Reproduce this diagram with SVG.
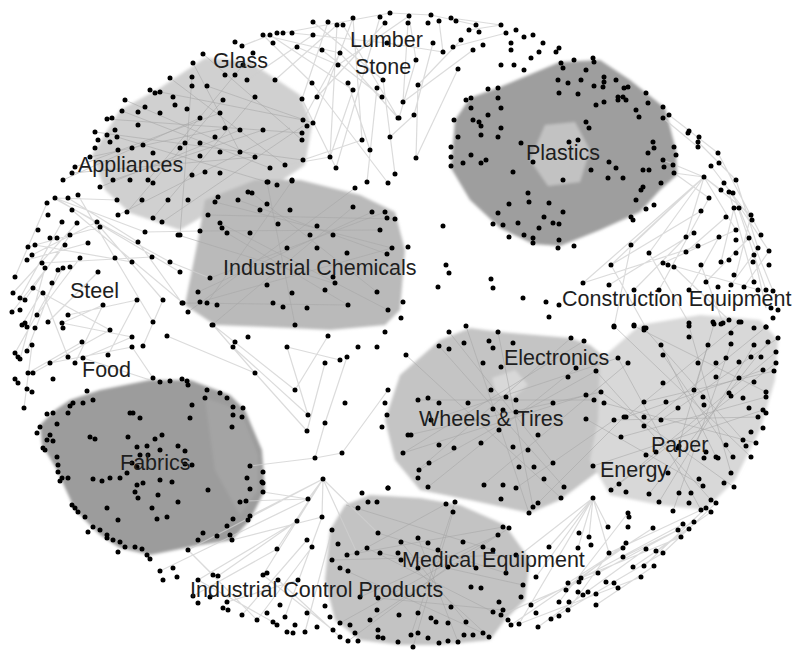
<svg xmlns="http://www.w3.org/2000/svg" width="796" height="651" viewBox="0 0 796 651">
<style>
.bg{fill:#fff}
.cl{stroke:none}
.e{fill:none;stroke:#cfcfcf;stroke-width:1.2;stroke-opacity:.75}
.t{fill:none;stroke:#a5a5a5;stroke-width:1;stroke-opacity:.55}
.n{fill:none;stroke:#000;stroke-width:5;stroke-linecap:round}
.lb{font-family:"Liberation Sans",Arial,Helvetica,sans-serif;font-size:21.5px;fill:#1e1e1e}
</style>
<defs>
<filter id="soft" x="-10%" y="-10%" width="120%" height="120%"><feGaussianBlur stdDeviation="1.6"/></filter>
</defs>
<rect class="bg" width="796" height="651"/>
<g id="connectors">
<g id="cluster-fills" filter="url(#soft)">
<polygon class="cl" fill="#d0d0d0" points="92,155 120,110 160,88 205,58 250,62 300,95 312,125 305,165 275,185 230,200 180,230 130,213 105,190"/>
<polygon class="cl" fill="#bababa" points="205,200 255,180 300,180 360,195 395,212 405,250 400,310 385,325 330,330 290,328 215,325 185,305 198,240"/>
<polygon class="cl" fill="#9e9e9e" points="455,120 470,98 500,87 560,62 600,60 630,80 665,108 676,150 677,175 660,190 640,212 600,230 560,246 533,244 500,228 470,200 451,168"/>
<polygon class="cl" fill="#c2c2c2" points="545,125 575,122 590,150 580,182 548,186 530,160"/>
<polygon class="cl" fill="#c4c4c4" points="400,375 440,340 470,328 500,332 570,338 590,345 620,370 625,420 600,470 560,500 530,513 470,500 420,490 395,460 385,420"/>
<polygon class="cl" fill="#d8d8d8" points="492,378 515,370 528,385 512,398 496,394"/>
<polygon class="cl" fill="#d8d8d8" points="600,360 640,325 700,315 760,320 778,340 775,380 760,430 735,480 705,510 660,505 610,495 590,460 598,420"/>
<polygon class="cl" fill="#9c9c9c" points="40,425 55,410 70,400 100,390 150,380 190,380 230,395 245,410 262,450 265,490 250,520 232,540 200,545 150,555 120,548 100,535 75,510 57,470 42,445"/>
<polygon class="cl" fill="#a4a4a4" points="205,398 240,410 258,455 258,490 240,515 215,470"/>
<polygon class="cl" fill="#c3c3c3" points="330,530 345,505 370,495 420,498 460,505 505,525 530,560 525,600 505,620 490,640 440,645 400,645 360,640 335,620 325,580"/>
</g>
<path class="t" d="M95,132L303,160M107,119L302,133M125,100L255,157M150,90L303,120M170,78L285,165M207,86L313,123M203,54L302,140M122,111L270,168M117,137L267,182M90,157L225,128M100,187L240,130M113,180L263,130M127,212L223,100M153,218L255,97M180,235L192,77M162,222L303,126M148,180L243,65M118,215L290,128M75,167L220,113M63,180L200,118M72,173L255,157M193,63L240,152"/>
<path class="t" d="M208,215L395,219M200,231L380,230M215,202L392,248M252,193L377,292M238,200L387,254M220,223L388,310M198,292L372,212M188,312L355,188M210,278L385,212M183,303L348,305M200,302L392,248M212,325L353,207M295,325L267,182M227,233L348,305M178,235L333,283M207,303L292,181"/>
<path class="t" d="M403,453L586,395M408,435L601,392M418,400L594,400M428,487L576,368M439,346L564,487M449,332L553,463M498,332L533,507M571,338L418,470M584,341L403,453M466,326L529,513M406,355L561,498M431,420L618,358M483,485L628,363M538,503L624,417M516,488L614,420M419,470L596,371"/>
<path class="t" d="M614,326L751,457M634,326L766,392M644,328L743,440M689,326L731,473M714,324L678,448M741,322L626,417M766,327L644,426M778,338L661,420M776,363L619,484M776,352L611,490M768,342L649,494M754,345L659,502M731,344L673,511M708,345L694,390M661,345L716,457M663,355L733,457M626,417L763,370M644,402L774,371M621,437L766,397M593,466L763,410M614,420L758,417M604,403L756,443M586,419L703,486M601,392L734,487M596,371L711,500M618,358L701,510"/>
<path class="t" d="M346,505L493,550M340,568L483,633M332,560L516,555M347,555L503,527M357,553L446,504M378,533L506,573M367,548L493,612M380,553L523,585M378,598L503,610M370,620L509,528M360,597L498,535M401,542L466,622M418,538L458,642M398,553L489,637M453,512L413,647M455,502L411,635M340,623L498,535M348,641L448,567"/>
<path class="e" d="M263,35L340,53M270,35L353,90M283,33L390,13M292,33L387,43M297,47L338,65M313,22L383,80M328,22L302,99M337,25L330,157M343,25L398,118M353,18L362,140M380,17L336,168M385,23L317,97M390,13L431,15M409,16L416,60M431,15L476,25M451,18L501,25M439,21L443,52M408,23L403,102M416,60L399,118M418,85L416,158M414,115L390,137M433,43L414,115M461,40L418,85M473,50L403,102M348,83L370,150M353,90L330,157M377,88L367,182M383,80L395,174M312,83L388,183M302,99L336,168M247,80L313,35M275,80L337,25M312,83L263,35M322,50L382,97M340,53L398,118M387,43L443,52M501,25L469,30M506,33L453,47M416,158L458,69M338,65L409,16M270,35L242,46M303,120L340,53M313,123L353,18M303,160L362,140M285,165L330,157"/>
<path class="e" d="M55,198L180,272M57,200L170,262M55,198L145,232M47,203L15,277M68,198L138,242M78,195L115,258M28,247L100,227M35,245L132,262M32,255L97,222M27,260L88,243M42,263L152,257M13,293L77,223M20,298L62,222M25,300L70,235M12,312L65,245M37,315L80,258M48,322L98,272M62,323L103,305M22,325L43,290M68,315L137,300M153,322L115,258M163,300L100,227M182,303L138,242M15,353L63,268M20,359L45,268M27,351L58,270M68,357L43,293M75,363L103,305M83,358L132,337M108,355L137,300M132,337L62,323M143,346L163,300M110,330L33,288M28,373L82,342M50,363L132,347M24,408L32,345M33,373L110,330M153,378L132,347M72,210L183,303M145,232L200,231M170,262L210,278M83,358L150,380M55,198L118,200"/>
<path class="e" d="M323,479L188,550M323,479L297,521M323,479L308,499M323,479L263,575M323,479L277,549M323,479L322,517M323,479L357,553M308,499L160,571M297,521L198,580M297,521L218,576M277,549L193,596M307,540L242,615M312,547L257,620M322,517L285,617M332,530L305,632M188,550L257,620M188,550L213,575M198,580L273,622M227,602L298,580M263,575L333,630M278,580L340,637M232,540L322,517M247,501L308,499M315,458L250,466M315,458L342,453M325,423L315,458M307,431L255,373M308,415L233,347M295,390L213,325M295,390L328,336M255,373L167,336M287,347L340,360M325,423L347,357M342,453L388,390M308,415L287,347M255,373L213,325M307,431L325,363M250,516L323,479M263,492L308,499M323,479L378,533"/>
<path class="e" d="M593,498L536,577M593,498L578,548M593,498L549,547M593,498L519,624M593,498L609,553M593,498L589,537M593,498L608,527M593,498L520,555M653,528L568,583M678,530L598,573M689,529L633,567M694,522L623,557M681,537L581,578M628,513L559,602M683,524L531,605M646,549L538,627M663,553L551,619M626,543L566,590M654,566L596,605M711,512L656,551M716,503L663,553M706,508L644,566M701,510L609,553M641,577L519,624M609,553L568,610M623,548L511,625M599,573L501,615"/>
<path class="e" d="M704,177L611,265M704,177L583,283M704,177L631,245M704,177L649,253M704,177L686,237M704,177L736,230M704,177L721,190M704,177L751,215M704,177L674,173M718,153L761,235M711,166L752,220M698,142L736,180M724,183L769,251M736,180L758,248M733,193L766,290M729,192L754,282M739,208L773,291M701,211L611,265M709,198L659,290M734,208L721,262M751,215L736,275M726,217L686,252M736,230L663,263M694,233L609,285M686,237L634,290M698,246L583,283M719,237L689,290M749,238L706,282M758,248L731,285M769,251L744,287M754,255L766,308M663,263L759,290M631,245L614,327M649,253L689,323M701,265L723,323M674,267L729,320M611,265L646,328M669,115L718,153M663,160L704,177M663,118L698,147M674,173L709,198"/>
</g>
<g id="nodes">
<g id="n-lumber-stone"><path class="n" d="M313 22h0M328 22h0M337 25h0M343 25h0M353 18h0M380 17h0M390 13h0M385 23h0M263 35h0M270 35h0M277 33h0M283 33h0M292 33h0M313 35h0M235 42h0M242 46h0M273 43h0M297 47h0M322 50h0M340 53h0M387 43h0M253 53h0M338 65h0M348 83h0M353 90h0M275 80h0M312 83h0M317 97h0M302 99h0M377 88h0M383 80h0M382 97h0M398 118h0M390 137h0M362 140h0M370 150h0M330 157h0M336 168h0M367 182h0M388 183h0M395 174h0M409 16h0M431 15h0M451 18h0M456 21h0M439 21h0M428 23h0M408 23h0M476 25h0M479 32h0M501 25h0M469 30h0M461 40h0M433 43h0M443 52h0M453 47h0M473 50h0M483 45h0M506 33h0M516 30h0M524 37h0M533 35h0M511 43h0M511 50h0M543 43h0M539 52h0M559 48h0M556 52h0M531 58h0M416 60h0M458 69h0M501 65h0M514 65h0M524 70h0M418 85h0M403 102h0M414 115h0M399 118h0M416 158h0"/></g>
<g id="n-glass-appliances"><path class="n" d="M203 54h0M193 63h0M243 65h0M235 75h0M247 80h0M225 75h0M170 78h0M192 77h0M192 86h0M207 86h0M173 97h0M150 90h0M155 93h0M160 92h0M125 100h0M145 107h0M175 105h0M122 111h0M138 112h0M160 113h0M187 109h0M223 100h0M255 97h0M220 113h0M200 118h0M107 119h0M112 118h0M115 130h0M138 125h0M117 137h0M107 135h0M95 132h0M98 140h0M95 148h0M110 142h0M90 157h0M118 150h0M132 148h0M143 145h0M153 153h0M180 148h0M185 143h0M200 143h0M215 137h0M225 128h0M240 130h0M263 130h0M220 152h0M200 156h0M240 152h0M255 157h0M303 120h0M307 126h0M313 123h0M302 133h0M302 140h0M285 165h0M303 160h0M270 168h0M220 173h0M205 172h0M192 175h0M148 180h0M153 183h0M130 180h0M113 180h0M100 187h0M75 167h0M72 173h0M63 180h0M117 200h0M127 212h0M118 215h0M142 200h0M153 218h0M162 222h0M180 235h0M168 200h0M188 200h0M218 197h0M248 192h0M267 182h0M277 185h0M292 180h0"/></g>
<g id="n-steel"><path class="n" d="M55 198h0M68 198h0M78 195h0M47 203h0M72 210h0M48 215h0M77 223h0M62 222h0M38 230h0M70 235h0M50 238h0M57 238h0M28 247h0M35 245h0M65 245h0M88 243h0M97 222h0M100 227h0M32 255h0M27 260h0M42 263h0M45 268h0M80 258h0M70 267h0M63 268h0M52 283h0M15 277h0M33 288h0M43 293h0M13 293h0M25 300h0M20 298h0M58 270h0M98 272h0M115 258h0M132 262h0M152 257h0M138 242h0M145 232h0M170 262h0M180 272h0M137 300h0M163 300h0M182 303h0M103 305h0M12 312h0M20 310h0M37 315h0M68 315h0M22 325h0M25 323h0M48 322h0M62 323h0M153 322h0M27 327h0M35 328h0M63 328h0M110 330h0M132 337h0M132 347h0M143 346h0"/></g>
<g id="n-food"><path class="n" d="M82 342h0M32 345h0M27 351h0M15 353h0M18 357h0M20 359h0M68 357h0M75 363h0M83 358h0M108 355h0M50 363h0M28 373h0M33 373h0M53 379h0M15 379h0M18 383h0M27 389h0M32 392h0M24 408h0M87 391h0M153 378h0M167 336h0"/></g>
<g id="n-industrial-chemicals"><path class="n" d="M268 182h0M292 181h0M252 193h0M238 200h0M215 202h0M267 204h0M260 210h0M208 215h0M220 223h0M222 228h0M227 233h0M250 233h0M278 224h0M290 210h0M317 226h0M355 188h0M353 207h0M372 212h0M385 212h0M387 218h0M395 219h0M380 230h0M310 235h0M333 235h0M287 248h0M317 248h0M347 253h0M392 248h0M387 254h0M200 231h0M178 235h0M210 278h0M333 277h0M335 283h0M267 285h0M292 293h0M325 290h0M377 292h0M198 292h0M200 302h0M183 303h0M207 303h0M217 305h0M273 303h0M283 307h0M307 308h0M348 305h0M388 310h0M188 312h0M212 325h0M295 325h0M213 325h0M233 347h0M235 342h0M248 337h0M287 347h0M295 325h0M328 336h0M325 363h0M340 360h0M347 357h0M358 347h0M377 347h0M385 332h0M401 318h0M403 302h0"/></g>
<g id="n-plastics"><path class="n" d="M561 63h0M574 60h0M563 68h0M586 70h0M594 62h0M593 58h0M604 77h0M616 80h0M624 88h0M628 87h0M623 97h0M618 97h0M604 82h0M603 87h0M594 86h0M581 80h0M568 83h0M558 80h0M559 93h0M578 94h0M596 105h0M604 102h0M618 100h0M626 100h0M636 110h0M646 93h0M648 103h0M663 107h0M663 118h0M669 115h0M639 117h0M586 122h0M589 128h0M578 140h0M569 142h0M653 142h0M654 148h0M674 147h0M676 155h0M648 153h0M663 160h0M664 167h0M673 165h0M674 173h0M521 143h0M533 162h0M609 162h0M616 168h0M591 170h0M608 178h0M623 178h0M643 170h0M649 170h0M661 183h0M643 187h0M641 190h0M636 200h0M654 205h0M646 209h0M631 217h0M633 220h0M563 180h0M513 172h0M528 193h0M529 202h0M509 204h0M549 203h0M563 212h0M544 217h0M553 223h0M559 224h0M539 228h0M498 213h0M493 224h0M503 225h0M518 223h0M509 237h0M524 235h0M533 238h0M533 243h0M559 240h0M558 248h0M574 246h0M454 120h0M458 137h0M451 147h0M451 157h0M451 166h0M463 163h0M471 155h0M481 163h0M486 160h0M466 100h0M471 98h0M488 89h0M498 88h0M498 98h0M501 108h0M488 115h0M479 122h0M481 126h0M481 135h0M471 108h0M473 120h0M501 128h0M498 137h0"/></g>
<g id="n-construction"><path class="n" d="M688 133h0M689 131h0M699 137h0M698 142h0M698 147h0M718 153h0M711 166h0M719 163h0M704 177h0M724 183h0M736 180h0M721 190h0M729 192h0M733 193h0M709 198h0M701 211h0M734 208h0M739 208h0M751 215h0M752 220h0M726 217h0M736 230h0M761 235h0M694 233h0M686 237h0M698 246h0M719 237h0M736 240h0M749 238h0M758 248h0M769 251h0M754 255h0M736 253h0M686 252h0M649 253h0M631 245h0M663 263h0M668 265h0M674 267h0M701 265h0M721 262h0M729 260h0M753 262h0M769 265h0M734 275h0M754 282h0M706 282h0M718 287h0M731 285h0M744 287h0M758 290h0M766 290h0M773 291h0M771 308h0M778 310h0M611 265h0M583 283h0M609 285h0M634 290h0M659 290h0M689 290h0M443 226h0M408 247h0M446 265h0M449 273h0M438 287h0M491 279h0M493 288h0M523 298h0M546 302h0M559 305h0M549 317h0M614 327h0M634 325h0M646 328h0M689 323h0M713 322h0M723 323h0M729 320h0M739 322h0M766 327h0M773 318h0"/></g>
<g id="n-fabrics"><path class="n" d="M160 382h0M170 381h0M182 379h0M187 381h0M188 385h0M207 390h0M220 393h0M227 398h0M205 398h0M192 405h0M233 407h0M243 408h0M233 415h0M242 417h0M190 418h0M232 427h0M93 400h0M83 403h0M73 403h0M70 406h0M68 413h0M53 413h0M47 414h0M57 424h0M40 427h0M37 433h0M50 435h0M47 440h0M53 441h0M43 448h0M45 450h0M57 457h0M58 465h0M58 472h0M62 478h0M60 481h0M68 478h0M130 413h0M133 413h0M140 418h0M90 437h0M95 439h0M128 437h0M155 439h0M162 435h0M147 446h0M160 450h0M178 446h0M185 451h0M137 447h0M140 455h0M148 455h0M132 463h0M185 464h0M192 465h0M127 473h0M137 467h0M93 479h0M102 481h0M110 478h0M120 478h0M137 485h0M143 483h0M160 480h0M172 482h0M135 492h0M138 498h0M158 495h0M178 502h0M208 490h0M250 466h0M263 472h0M247 478h0M262 482h0M263 483h0M250 489h0M263 492h0M240 502h0M246 501h0M152 508h0M72 505h0M75 508h0M78 512h0M107 508h0M85 517h0M118 520h0M157 519h0M167 517h0M250 516h0M248 520h0M233 519h0M227 526h0M88 532h0M93 527h0M100 530h0M107 535h0M107 538h0M113 540h0M120 542h0M203 533h0M217 536h0M198 540h0M232 540h0M230 535h0M125 547h0M118 552h0M135 547h0M142 549h0M147 555h0M150 559h0M188 550h0"/></g>
<g id="n-industrial-control"><path class="n" d="M160 571h0M163 580h0M173 568h0M177 577h0M198 580h0M213 575h0M218 576h0M193 596h0M198 603h0M210 597h0M227 602h0M223 608h0M228 610h0M242 615h0M257 620h0M267 613h0M273 622h0M277 625h0M285 617h0M280 605h0M295 625h0M287 632h0M293 633h0M305 632h0M307 613h0M317 627h0M325 606h0M330 617h0M333 630h0M340 623h0M350 625h0M340 637h0M348 641h0M358 641h0M355 633h0M263 575h0M267 573h0M278 580h0M298 580h0M277 549h0M307 540h0M312 547h0M297 521h0M322 517h0M308 499h0M323 479h0M332 530h0M338 544h0M347 555h0M357 553h0M340 568h0M348 571h0M332 560h0M315 458h0M342 453h0M325 423h0M307 431h0M308 415h0M345 403h0M295 390h0M255 373h0"/></g>
<g id="n-wheels-electronics"><path class="n" d="M388 390h0M385 403h0M387 415h0M382 427h0M388 488h0M362 493h0M368 502h0M377 502h0M358 508h0M449 332h0M466 326h0M498 332h0M571 338h0M584 341h0M439 346h0M449 349h0M464 343h0M489 341h0M493 348h0M513 343h0M406 355h0M483 363h0M501 367h0M568 377h0M596 371h0M576 368h0M618 358h0M628 363h0M491 390h0M506 397h0M516 400h0M553 403h0M586 395h0M601 392h0M594 400h0M604 403h0M418 400h0M428 398h0M439 403h0M468 403h0M493 409h0M503 410h0M516 412h0M586 419h0M431 420h0M411 435h0M408 435h0M499 430h0M538 435h0M439 445h0M454 448h0M481 443h0M513 447h0M528 450h0M403 453h0M429 463h0M519 467h0M534 467h0M553 463h0M419 470h0M418 478h0M544 479h0M428 487h0M484 485h0M503 485h0M516 488h0M564 487h0M501 499h0M538 503h0M561 498h0M533 507h0M529 513h0M614 420h0M621 437h0M593 466h0M624 417h0"/></g>
<g id="n-paper-energy"><path class="n" d="M614 326h0M634 326h0M644 328h0M689 326h0M714 324h0M721 324h0M741 322h0M754 328h0M766 327h0M778 338h0M776 352h0M776 363h0M768 342h0M754 345h0M731 333h0M731 344h0M708 345h0M689 337h0M661 345h0M644 330h0M663 355h0M698 363h0M716 363h0M716 377h0M726 358h0M739 362h0M751 357h0M761 357h0M774 371h0M763 370h0M754 382h0M739 378h0M766 392h0M766 397h0M729 393h0M731 396h0M743 398h0M694 390h0M703 397h0M704 405h0M678 408h0M666 402h0M661 420h0M644 402h0M644 417h0M644 426h0M626 417h0M663 383h0M749 408h0M758 417h0M763 410h0M766 413h0M751 432h0M763 428h0M743 440h0M746 446h0M756 443h0M751 457h0M733 457h0M726 445h0M716 457h0M718 458h0M706 452h0M704 458h0M731 473h0M699 479h0M703 486h0M724 483h0M734 487h0M711 500h0M716 503h0M706 508h0M711 512h0M701 510h0M691 493h0M679 493h0M689 503h0M673 511h0M659 502h0M649 494h0M626 492h0M619 484h0M611 490h0M679 446h0M646 455h0M656 452h0M678 448h0M668 473h0M593 498h0M628 513h0M629 517h0M608 527h0M628 527h0M653 528h0M678 530h0M689 529h0M683 524h0M694 522h0M681 537h0"/></g>
<g id="n-medical"><path class="n" d="M579 533h0M589 537h0M591 545h0M578 548h0M549 547h0M626 543h0M623 548h0M646 549h0M656 551h0M663 553h0M609 553h0M623 557h0M633 567h0M644 566h0M654 566h0M641 577h0M598 573h0M581 578h0M579 582h0M606 582h0M614 583h0M618 588h0M568 583h0M566 590h0M578 592h0M588 592h0M596 594h0M583 595h0M569 602h0M559 602h0M596 605h0M531 605h0M568 610h0M559 616h0M551 619h0M536 613h0M538 627h0M508 620h0M511 625h0M519 624h0M501 615h0M446 504h0M455 502h0M453 512h0M503 527h0M509 528h0M498 535h0M418 538h0M428 543h0M401 542h0M438 550h0M463 542h0M483 547h0M398 553h0M401 560h0M418 568h0M448 567h0M476 568h0M493 550h0M516 555h0M506 573h0M536 577h0M471 587h0M481 588h0M523 585h0M499 602h0M521 597h0M451 607h0M399 615h0M418 613h0M431 618h0M436 622h0M448 623h0M466 622h0M493 612h0M503 610h0M411 635h0M418 633h0M428 638h0M439 643h0M448 641h0M458 642h0M464 635h0M473 635h0M483 633h0M489 637h0M398 642h0M413 647h0M378 533h0M367 548h0M380 553h0M378 598h0M377 610h0M370 620h0M378 630h0M378 637h0M383 638h0M360 597h0M388 488h0"/></g>
</g>
<g id="labels">
<text class="lb" x="350" y="47">Lumber</text>
<text class="lb" x="355" y="74">Stone</text>
<text class="lb" x="213" y="68">Glass</text>
<text class="lb" x="78" y="172">Appliances</text>
<text class="lb" x="526" y="160">Plastics</text>
<text class="lb" x="223" y="275">Industrial Chemicals</text>
<text class="lb" x="70" y="298">Steel</text>
<text class="lb" x="562" y="306">Construction Equipment</text>
<text class="lb" x="82" y="377">Food</text>
<text class="lb" x="504" y="365">Electronics</text>
<text class="lb" x="419" y="426">Wheels &amp; Tires</text>
<text class="lb" x="651" y="452">Paper</text>
<text class="lb" x="600" y="477">Energy</text>
<text class="lb" x="120" y="470">Fabrics</text>
<text class="lb" x="402" y="567">Medical Equipment</text>
<text class="lb" x="190" y="597">Industrial Control Products</text>
</g>
</svg>
